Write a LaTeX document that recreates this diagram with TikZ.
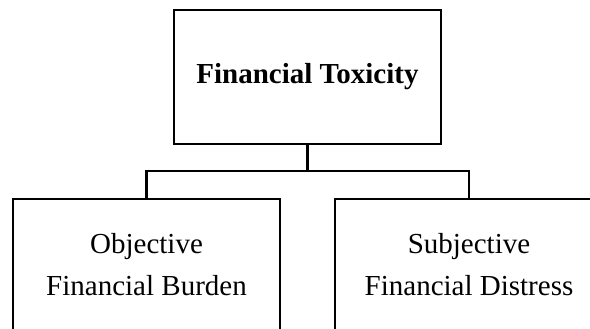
\documentclass[tikz,border=0pt]{standalone}
\usepackage{fontspec}
\setmainfont{Liberation Serif}
\begin{document}
\begin{tikzpicture}[x=0.5pt,y=-0.5pt,
  box/.style={draw, line width=1.15pt, inner sep=0pt, align=center,
    font=\fontsize{14.5}{21}\selectfont},
  link/.style={line width=1.15pt}]
  % canvas
  \useasboundingbox (0,0) rectangle (590,328);
  \clip (0,0) rectangle (590,328);
  % boxes
  \node[box, minimum width=133.5pt, minimum height=67pt] (top) at (307.5,77)
    {\textbf{Financial Toxicity}};
  \node[box, minimum width=133.5pt, minimum height=66pt] (obj) at (146.5,265)
    {Objective\\Financial Burden};
  \node[box, minimum width=134pt, minimum height=66pt] (subj) at (469,265)
    {Subjective\\Financial Distress};
  % connectors
  \coordinate (bus) at (307.5,171);
  \draw[link] (top.south) -- (bus);
  \draw[link] (obj.north) |- (bus) -| (subj.north);
\end{tikzpicture}
\end{document}
